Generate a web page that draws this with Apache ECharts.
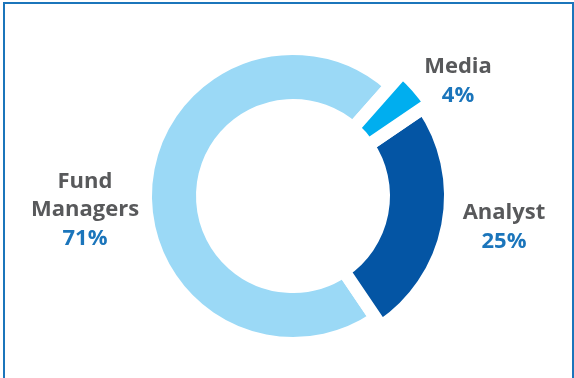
<!DOCTYPE html>
<html>
<head>
<meta charset="utf-8">
<style>
  html, body { margin: 0; padding: 0; background: #ffffff; }
  #chart { width: 574px; height: 378px; }
</style>
<script src="https://cdn.jsdelivr.net/npm/echarts@6/dist/echarts.min.js"></script>
</head>
<body>
<div id="chart"></div>
<script>
// ---- data ----
const categories = ['Media', 'Analyst', 'Fund Managers'];
const shares = [4, 25, 71];           // percent

// ---- style ----
const colors = ['#00aeef', '#0455a4', '#9bd9f6'];
const gap = 13;                        // white gap between slices (px)
const innerR = 97;
const outerR = [159, 151, 141];        // visible outer radius per slice
const labelOffsets = [[165, -114], [211, 32], [-208, 15]];
const center = [293, 196];

const chart = echarts.init(document.getElementById('chart'), null, { renderer: 'canvas' });

function buildSeries(i) {
  return {
    type: 'pie',
    center: center,
    radius: [innerR - gap / 2, outerR[i] + gap / 2],
    startAngle: 48.5,
    clockwise: true,
    silent: true,
    animation: false,
    avoidLabelOverlap: false,
    emphasis: { disabled: true },
    z: 2 + (2 - i),
    data: categories.map((c, j) => ({
      name: c,
      value: shares[j],
      itemStyle: j === i
        ? { color: colors[j], borderColor: '#ffffff', borderWidth: gap, borderJoin: 'bevel' }
        : { color: 'rgba(0,0,0,0)', borderWidth: 0 },
      label: j === i
        ? {
            show: true,
            position: 'center',
            offset: labelOffsets[j],
            formatter: p => '{n|' + p.name.replace(' ', '\n') + '}\n{p|' + p.value + '%}',
            rich: {
              n: { fontFamily: 'Open Sans', fontWeight: 700, fontSize: 22, color: '#58595b', lineHeight: 28, align: 'center' },
              p: { fontFamily: 'Open Sans', fontWeight: 700, fontSize: 22, color: '#1b75bb', lineHeight: 30, align: 'center' }
            }
          }
        : { show: false },
      labelLine: { show: false }
    }))
  };
}

chart.setOption({
  backgroundColor: '#ffffff',
  animation: false,
  graphic: [{
    type: 'rect',
    shape: { x: 4, y: 3, width: 569, height: 420 },
    style: { fill: 'none', stroke: '#1b75bb', lineWidth: 2 },
    silent: true
  }],
  series: [buildSeries(2), buildSeries(1), buildSeries(0)]
});
</script>
</body>
</html>
